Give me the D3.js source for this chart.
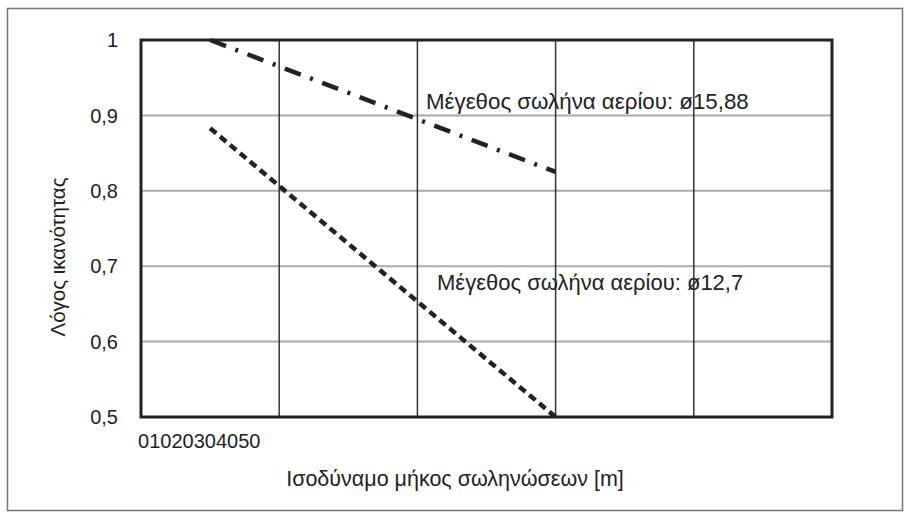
<!DOCTYPE html>
<html><head><meta charset="utf-8">
<script src="https://cdn.jsdelivr.net/npm/d3@7"></script>
<style>body{margin:0;background:#fff}svg{display:block}text{font-family:"Liberation Sans",Arial,sans-serif;fill:#222}</style>
</head><body>
<svg id="c" width="910" height="512"></svg>
<script>
const xTicks = [0, 10, 20, 30, 40, 50];
const yTicks = [0.5, 0.6, 0.7, 0.8, 0.9, 1];
const xPoints = [5, 30];
const pipe1588 = [1.0, 0.825];
const pipe127 = [0.883, 0.5];
const label1588 = "Μέγεθος σωλήνα αερίου: ø15,88";
const label127 = "Μέγεθος σωλήνα αερίου: ø12,7";
const xTitle = "Ισοδύναμο μήκος σωληνώσεων [m]";
const yTitle = "Λόγος ικανότητας";

const svg = d3.select("#c");
const L = 141, R = 832, T = 40, B = 417;
const x = d3.scaleLinear().domain([0, 50]).range([L, R]);
const y = d3.scaleLinear().domain([0.5, 1]).range([B, T]);

svg.append("rect").attr("x", 7.5).attr("y", 8.5).attr("width", 895).attr("height", 502)
  .attr("fill", "none").attr("stroke", "#777").attr("stroke-width", 1.5);

// horizontal grid
svg.append("g").selectAll("line").data(yTicks.filter(d => d > 0.5 && d < 1)).join("line")
  .attr("x1", L).attr("x2", R).attr("y1", d => y(d)).attr("y2", d => y(d))
  .attr("stroke", "#aaa").attr("stroke-width", 2);
// vertical grid
svg.append("g").selectAll("line").data(xTicks.filter(d => d > 0 && d < 50)).join("line")
  .attr("x1", d => x(d)).attr("x2", d => x(d)).attr("y1", T).attr("y2", B)
  .attr("stroke", "#333").attr("stroke-width", 1.5);

// y tick labels
svg.append("g").selectAll("text").data(yTicks).join("text")
  .attr("x", 118).attr("y", d => y(d)).attr("dy", "0.36em").attr("text-anchor", "end")
  .attr("font-size", 20).text(d => String(d).replace(".", ","));

// x tick labels (compressed in original)
const xt = svg.append("text").attr("x", 138).attr("y", 448).attr("font-size", 20);
xt.selectAll("tspan").data(xTicks).join("tspan").text(d => d);

// series
const line = d3.line().x(d => x(d[0])).y(d => y(d[1]));
svg.append("path").datum(xPoints.map((v, i) => [v, pipe1588[i]])).attr("d", line)
  .attr("fill", "none").attr("stroke", "#222").attr("stroke-width", 4.5)
  .attr("stroke-dasharray", "17,10,3,10");
svg.append("path").datum(xPoints.map((v, i) => [v, pipe127[i]])).attr("d", line)
  .attr("fill", "none").attr("stroke", "#222").attr("stroke-width", 4.5)
  .attr("stroke-dasharray", "8,5");

// plot border
svg.append("rect").attr("x", L).attr("y", T).attr("width", R - L).attr("height", B - T)
  .attr("fill", "none").attr("stroke", "#222").attr("stroke-width", 3);

// annotations
svg.append("text").attr("x", 426).attr("y", 109).attr("font-size", 22.3).text(label1588);
svg.append("text").attr("x", 437).attr("y", 290).attr("font-size", 22).text(label127);

// axis titles
svg.append("text").attr("x", 455).attr("y", 486).attr("text-anchor", "middle")
  .attr("font-size", 21.5).text(xTitle);
svg.append("text").attr("transform", "translate(65,257) rotate(-90)").attr("text-anchor", "middle")
  .attr("font-size", 20.5).text(yTitle);
</script>
</body></html>
